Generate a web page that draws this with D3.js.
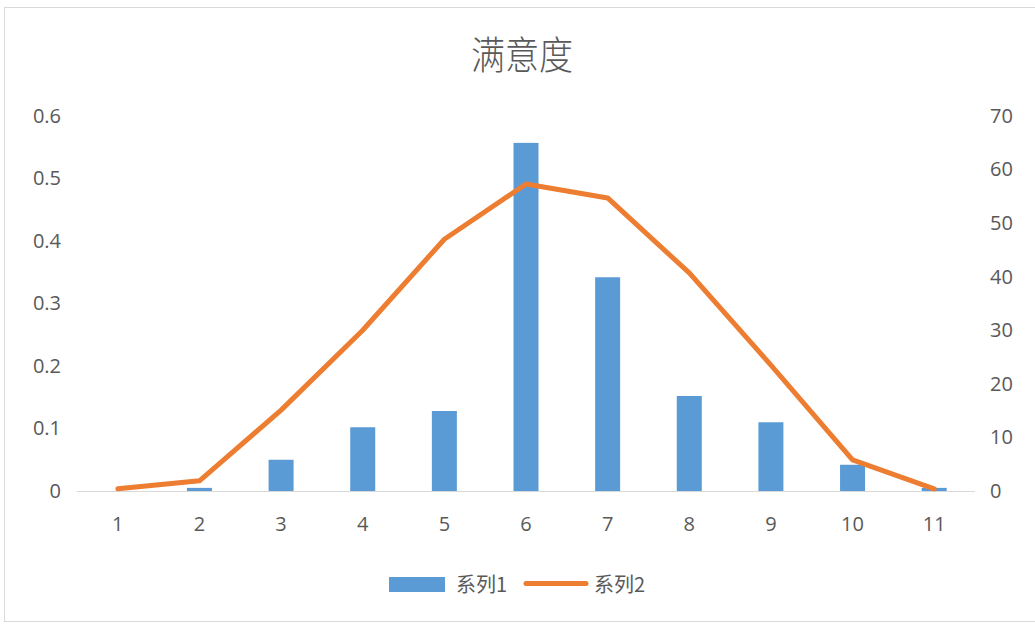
<!DOCTYPE html>
<html><head><meta charset="utf-8">
<script src="https://cdn.jsdelivr.net/npm/d3@7"></script>
<style>body{margin:0;background:#fff}svg{display:block}text{font-family:"Noto Sans CJK SC","Noto Sans",sans-serif}</style>
</head><body>
<script>
const categories = ["1","2","3","4","5","6","7","8","9","10","11"];
const series1 = [0, 0.005, 0.05, 0.102, 0.128, 0.557, 0.342, 0.152, 0.11, 0.042, 0.005];
const series2 = [0.4, 1.9, 15.1, 30, 47, 57.3, 54.7, 40.7, 23.5, 5.8, 0.4];
const leftTicks = [0, 0.1, 0.2, 0.3, 0.4, 0.5, 0.6];
const rightTicks = [0, 10, 20, 30, 40, 50, 60, 70];
const seriesNames = ["系列1", "系列2"];
const title = "满意度";

const W = 1035, H = 626;
const svg = d3.select("body").append("svg").attr("width", W).attr("height", H);
svg.append("rect").attr("x", 4.5).attr("y", 7.5).attr("width", W + 10).attr("height", H - 12)
  .attr("fill", "#fff").attr("stroke", "#d9d9d9");

const x = d3.scaleBand().domain(categories).range([77, 975]);
const yL = d3.scaleLinear().domain([0, 0.6]).range([491, 116]);
const yR = d3.scaleLinear().domain([0, 70]).range([491, 116]);
const textColor = "#595959";

svg.append("text").attr("x", 522).attr("y", 66).attr("text-anchor", "middle")
  .attr("font-size", 37).attr("font-weight", 300).attr("fill", textColor)
  .attr("transform", "translate(522,0) scale(0.92,1.05) translate(-522,0)").text(title);

const gL = svg.append("g").attr("transform", "translate(61,0)")
  .call(d3.axisLeft(yL).tickValues(leftTicks).tickSize(0).tickPadding(0).tickFormat(d => d3.format("")(d)));
const gR = svg.append("g").attr("transform", "translate(990,0)")
  .call(d3.axisRight(yR).tickValues(rightTicks).tickSize(0).tickPadding(0));
const gX = svg.append("g").attr("transform", "translate(0,491)")
  .call(d3.axisBottom(x).tickSize(0).tickPadding(26));
[gL, gR, gX].forEach(g => {
  g.select(".domain").remove();
  g.selectAll("text").attr("font-size", 20).attr("fill", textColor)
    .style("font-family", '"Open Sans","Noto Sans",sans-serif');
});

svg.append("line").attr("x1", 77).attr("x2", 975).attr("y1", 491.5).attr("y2", 491.5)
  .attr("stroke", "#d9d9d9").attr("stroke-width", 1);

const bw = 25;
svg.selectAll("rect.bar").data(series1).join("rect").attr("class", "bar")
  .attr("x", (d, i) => x(categories[i]) + x.bandwidth() / 2 - bw / 2)
  .attr("width", bw)
  .attr("y", d => yL(d)).attr("height", d => yL(0) - yL(d))
  .attr("fill", "#5B9BD5");

const line = d3.line().x((d, i) => x(categories[i]) + x.bandwidth() / 2).y(d => yR(d));
svg.append("path").datum(series2).attr("d", line).attr("fill", "none")
  .attr("stroke", "#ED7D31").attr("stroke-width", 5).attr("stroke-linejoin", "round").attr("stroke-linecap", "round");

// legend
svg.append("rect").attr("x", 389).attr("y", 577).attr("width", 56).attr("height", 15).attr("fill", "#5B9BD5");
svg.append("text").attr("x", 456).attr("y", 592).attr("font-size", 20).attr("fill", textColor).text(seriesNames[0]);
svg.append("line").attr("x1", 526).attr("x2", 586).attr("y1", 583.5).attr("y2", 583.5)
  .attr("stroke", "#ED7D31").attr("stroke-width", 5).attr("stroke-linecap", "round");
svg.append("text").attr("x", 594).attr("y", 592).attr("font-size", 20).attr("fill", textColor).text(seriesNames[1]);
</script>
</body></html>
